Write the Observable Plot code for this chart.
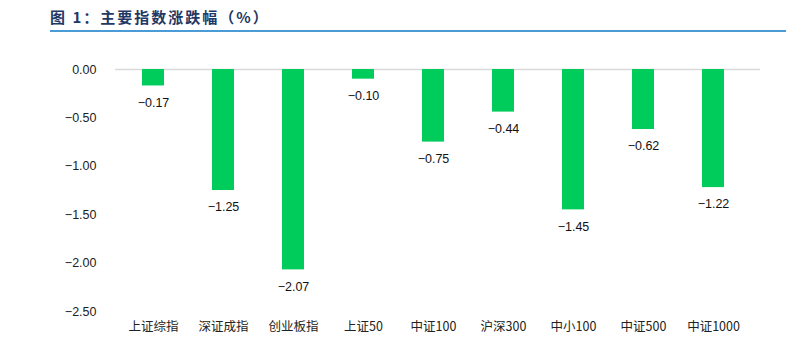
<!DOCTYPE html>
<html><head><meta charset="utf-8">
<script src="https://cdn.jsdelivr.net/npm/d3@7"></script>
<script src="https://cdn.jsdelivr.net/npm/@observablehq/plot@0.6"></script>
<style>
body{margin:0;background:#fff;width:786px;height:363px;overflow:hidden;font-family:"Noto Sans CJK SC",sans-serif;}
#title{position:relative;height:40px;}
#title .t{position:absolute;left:50px;top:6px;font-size:15px;font-weight:bold;color:#1f3864;letter-spacing:2px;font-family:"Noto Sans CJK SC",sans-serif;}
#title .line{position:absolute;left:50px;right:0;top:30px;height:2px;background:#4a9bd6;}
</style></head>
<body>
<div id="title"><div class="t">图 1：主要指数涨跌幅（%）</div><div class="line"></div></div>
<div id="chart"></div>
<script>
const categories = ["上证综指","深证成指","创业板指","上证50","中证100","沪深300","中小100","中证500","中证1000"];
const values = [-0.17,-1.25,-2.07,-0.10,-0.75,-0.44,-1.45,-0.62,-1.22];
const yTicks = [0,-0.5,-1,-1.5,-2,-2.5];
const data = categories.map((c,i)=>({cat:c, v:values[i]}));
const fmt = d3.format(".2f");
const chart = Plot.plot({
  width:786, height:323,
  marginLeft:115, marginRight:26, marginTop:29, marginBottom:52,
  style:{fontFamily:"'Noto Sans CJK SC', sans-serif", fontSize:"12px", color:"#222"},
  x:{domain:categories, range:[115,752], paddingInner:0.685, paddingOuter:0.3425, label:null},
  y:{domain:[-2.5,0], ticks:yTicks, tickFormat:fmt, label:null},
  marks:[
    Plot.ruleY([0],{stroke:"#d9d9d9", strokeWidth:1.5}),
    Plot.barY(data,{x:"cat", y:"v", fill:"#00cc5c"}),
    Plot.text(data,{x:"cat", y:"v", text:d=>fmt(d.v), lineAnchor:"top", dy:12, fontSize:12.5, fontFamily:"'Liberation Sans', Arial, sans-serif", fill:"#111"}),
    Plot.axisY({ticks:yTicks, tickFormat:fmt, tickSize:0, tickPadding:19, fontSize:12.5, fontFamily:"'Liberation Sans', Arial, sans-serif", label:null}),
    Plot.axisX({tickSize:0, tickPadding:11, fontSize:12.5, label:null})
  ]
});
document.getElementById("chart").appendChild(chart);
</script>
</body></html>
